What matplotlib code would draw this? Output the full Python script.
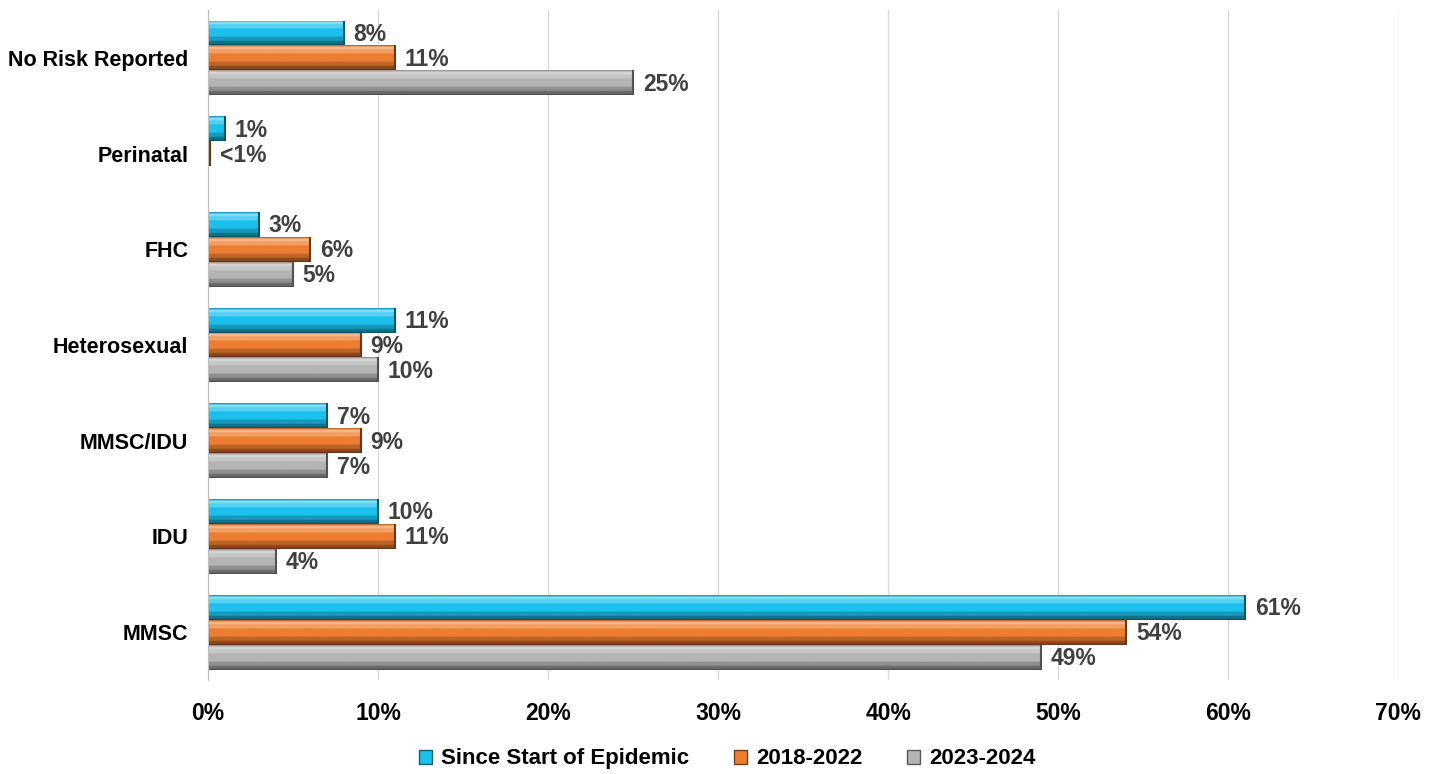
import numpy as np
import matplotlib.pyplot as plt
from matplotlib.colors import to_rgb
from matplotlib.patches import Patch

plt.rcParams['font.family'] = ['Liberation Sans', 'DejaVu Sans']
plt.rcParams['font.weight'] = 'bold'

# categories listed bottom to top
categories = ['MMSC', 'IDU', 'MMSC/IDU', 'Heterosexual', 'FHC', 'Perinatal', 'No Risk Reported']
series = ['Since Start of Epidemic', '2018-2022', '2023-2024']
since_start = [61, 10, 7, 11, 3, 1, 8]
y2018_2022 = [54, 11, 9, 9, 6, 0.15, 11]
y2023_2024 = [49, 4, 7, 10, 5, 0, 25]
labels_since = ['61%', '10%', '7%', '11%', '3%', '1%', '8%']
labels_2018 = ['54%', '11%', '9%', '9%', '6%', '<1%', '11%']
labels_2023 = ['49%', '4%', '7%', '10%', '5%', '', '25%']
xticks = [0, 10, 20, 30, 40, 50, 60, 70]

colours = ['#1cc0ec', '#ed7d31', '#b4b4b4']


def bevel(c):
    # vertical shading profile, top row first: thin edge, highlight, body, shadow
    c = np.array(to_rgb(c))
    white = np.ones(3)
    rows = []
    rows += [c * 0.85] * 1
    rows += [c + (white - c) * 0.45] * 2
    rows += [c + (white - c) * 0.25] * 3
    rows += [c] * 6
    rows += [c * 0.8] * 3
    rows += [c * 0.6] * 2
    rows += [c * 0.45] * 1
    return np.array(rows)[:, None, :]


fig = plt.figure(figsize=(14.4, 7.74), dpi=100)
ax = fig.add_axes([0.1444, 0.1214, 0.8266, 0.8656])

y = np.arange(len(categories))
h = 0.26
data = [since_start, y2018_2022, y2023_2024]
texts = [labels_since, labels_2018, labels_2023]
offsets = [h, 0, -h]

for vals, labs, off, col in zip(data, texts, offsets, colours):
    bars = ax.barh(y + off, vals, height=h, color=col, edgecolor='none')
    img = bevel(col)
    for b, lab in zip(bars, labs):
        w = b.get_width()
        if w <= 0:
            continue
        y0 = b.get_y()
        im = ax.imshow(img, extent=[0, w, y0, y0 + h], aspect='auto',
                       origin='upper', interpolation='bilinear', zorder=2)
        im.set_clip_path(b)
        # darker right end cap
        ax.plot([w, w], [y0, y0 + h], color=np.array(to_rgb(col)) * 0.45,
                lw=1.5, zorder=3, solid_capstyle='butt')
        ax.annotate(lab, (w, y0 + h / 2), xytext=(7, -1), textcoords='offset points',
                    va='center', ha='left', fontsize=16.5, color='#404040',
                    fontweight='bold')

ax.set_xlim(0, 70)
ax.set_ylim(-0.5, 6.5)
ax.set_xticks(xticks)
ax.set_xticklabels([f'{t}%' for t in xticks], fontsize=16.5, fontweight='bold')
ax.set_yticks(y)
ax.set_yticklabels(categories, fontsize=15.5, fontweight='bold')
ax.tick_params(axis='both', length=0)
ax.tick_params(axis='x', pad=16)
ax.tick_params(axis='y', pad=14)
ax.grid(axis='x', color='#d9d9d9', lw=1)
ax.set_axisbelow(True)
for s in ['top', 'right', 'bottom']:
    ax.spines[s].set_visible(False)
ax.spines['left'].set_color('#bfbfbf')

handles = [Patch(facecolor=c, edgecolor=np.array(to_rgb(c)) * 0.5) for c in colours]
fig.legend(handles, series, loc='lower center', bbox_to_anchor=(0.505, -0.02), ncol=3,
           frameon=False, handlelength=0.6, handleheight=0.6,
           handletextpad=0.4, columnspacing=2.0, prop={'weight': 'bold', 'size': 16})

fig.savefig('out.png', dpi=100)
